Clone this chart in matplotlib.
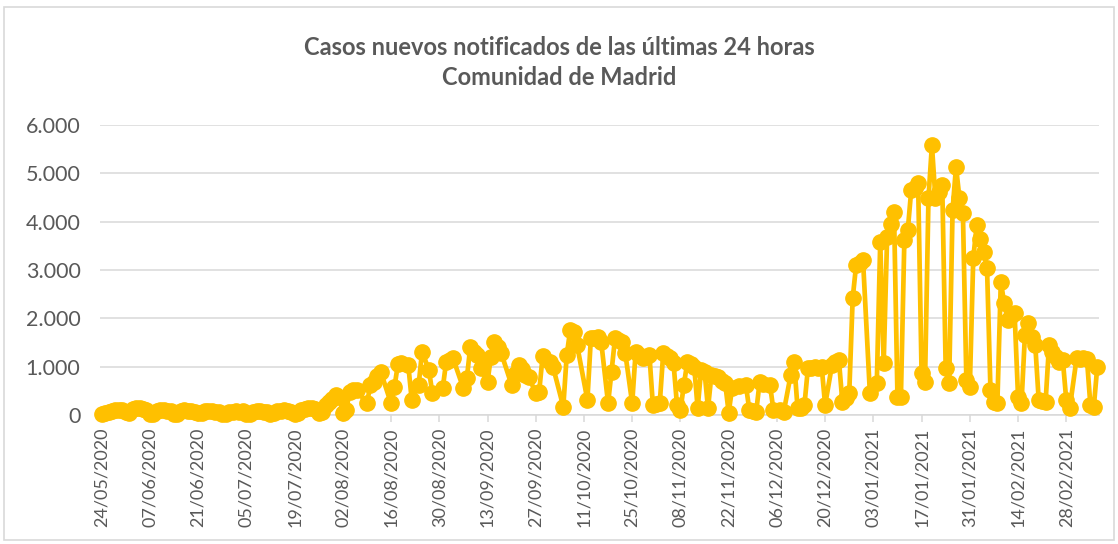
import datetime as dt

import matplotlib
matplotlib.use("Agg")
import matplotlib.dates as mdates
import matplotlib.pyplot as plt
from matplotlib.patches import Rectangle
from matplotlib.ticker import FuncFormatter, MultipleLocator


TITLE = "Casos nuevos notificados de las últimas 24 horas\nComunidad de Madrid"
START = dt.date(2020, 5, 24)

# days since 24/05/2020 and cases notified that day
dias = [
    0, 1, 2, 3, 4, 5, 6, 7, 8, 9, 10, 11, 12, 13,
    14, 15, 16, 17, 18, 19, 20, 21, 22, 23, 24, 25, 26, 27,
    28, 29, 30, 31, 32, 33, 34, 35, 36, 37, 38, 39, 40, 41,
    42, 43, 44, 45, 46, 47, 48, 49, 50, 51, 52, 53, 54, 55,
    56, 57, 58, 59, 60, 61, 62, 63, 64, 65, 66, 67, 68, 69,
    70, 71, 72, 73, 74, 77, 78, 79, 80, 81,
    84, 85, 86, 87, 89, 90, 92, 93, 95, 96,
    99, 100, 101, 102, 105, 106, 107, 108, 109, 110,
    112, 113, 114, 115, 116, 119, 120, 121, 122, 123, 124,
    126, 127, 128, 130, 131, 134, 135, 136, 137, 138,
    141, 142, 143, 144, 145, 147, 148, 149, 150, 151, 152,
    154, 155, 156, 157, 158, 159, 160, 161, 162, 163, 164, 165,
    166, 167, 168, 169, 170, 171, 172, 173, 174, 175, 176, 177, 178, 179, 180, 181,
    182, 183, 185, 187, 188, 189, 190, 191, 192, 194,
    195, 197, 198, 200, 201, 202, 203, 204, 205, 206, 207, 208, 209,
    210, 212, 213, 214, 215, 216, 217, 218, 219, 220, 221,
    223, 225, 226, 227, 228, 229, 230, 231, 232, 233, 234, 235, 236, 237,
    238, 239, 240, 241, 242, 243, 244, 245, 246, 247, 248, 249, 250,
    251, 252, 253, 254, 255, 256, 257, 258, 259, 260, 261, 262, 263, 264, 265,
    266, 267, 268, 269, 270, 271, 272, 273, 274, 275, 276, 277, 278, 279,
    280, 281, 283, 284, 285, 286, 287, 288, 289,
]
casos = [
    30, 50, 70, 80, 95, 110, 100, 70, 40, 120, 135, 140, 130, 110,
    15, 25, 90, 100, 95, 85, 80, 20, 30, 85, 95, 80, 75, 60,
    45, 50, 75, 80, 85, 70, 60, 15, 25, 65, 70, 75, 70, 80,
    15, 30, 70, 80, 75, 60, 70, 20, 40, 80, 90, 95, 85, 60,
    30, 50, 110, 130, 145, 150, 120, 50, 60, 200, 270, 330, 414, 380,
    50, 110, 480, 517, 517, 241, 620, 690, 800, 896,
    241, 586, 1055, 1069, 1034, 310, 621, 1310, 931, 448,
    552, 1103, 1140, 1172, 552, 758, 1413, 1300, 1241, 965,
    690, 1207, 1517, 1400, 1276, 621, 850, 1034, 950, 827, 790,
    448, 483, 1220, 1100, 1000, 172, 1241, 1758, 1724, 1448,
    310, 1586, 1600, 1620, 1517, 241, 897, 1586, 1550, 1517, 1276,
    241, 1310, 1250, 1172, 1200, 1241, 207, 220, 241, 1276, 1220, 1172,
    1069, 207, 103, 621, 1103, 1050, 1000, 138, 931, 900, 138, 827, 800, 790, 700, 655,
    50, 552, 600, 621, 103, 80, 69, 690, 650, 621,
    103, 103, 69, 827, 1103, 138, 150, 207, 965, 980, 1000, 980, 1000,
    207, 1034, 1100, 1138, 276, 350, 448, 2414, 3103, 3150, 3207,
    448, 655, 3586, 1069, 3690, 3950, 4207, 379, 379, 3621, 3828, 4655, 4700, 4793,
    862, 690, 4483, 5586, 4500, 4621, 4759, 965, 655, 4241, 5138, 4483, 4172,
    724, 570, 3241, 3931, 3650, 3379, 3034, 517, 276, 241, 2758, 2310, 1966, 2050, 2103,
    379, 241, 1655, 1897, 1620, 1448, 310, 290, 276, 1448, 1300, 1207, 1103, 1138,
    310, 138, 1172, 1150, 1172, 1160, 207, 172, 1000,
]

GOLD = "#FFC000"
GREY_TEXT = "#595959"
GRID = "#D9D9D9"


def miles(value, _pos):
    return f"{int(value):,}".replace(",", ".")


def main() -> None:
    plt.rcParams["font.family"] = ["Lato", "DejaVu Sans"]
    fechas = [START + dt.timedelta(days=d) for d in dias]

    fig = plt.figure(figsize=(11.18, 5.44), dpi=100)
    ax = fig.add_axes([0.0894, 0.2371, 0.8936, 0.5331])

    ax.plot(fechas, casos, color=GOLD, linewidth=3.4, marker="o",
            markersize=11, markerfacecolor=GOLD, markeredgecolor=GOLD,
            solid_joinstyle="round", clip_on=False, zorder=3)

    ax.set_ylim(0, 6000)
    ax.yaxis.set_major_locator(MultipleLocator(1000))
    ax.yaxis.set_major_formatter(FuncFormatter(miles))
    ax.set_xlim(mdates.date2num(START) - 0.5,
                mdates.date2num(START + dt.timedelta(days=289)) + 0.5)
    ticks = [START + dt.timedelta(days=14 * k) for k in range(21)]
    ax.set_xticks(ticks)
    ax.xaxis.set_major_formatter(mdates.DateFormatter("%d/%m/%Y"))

    ax.grid(axis="y", color=GRID, linewidth=1.1, zorder=0)
    for side in ("top", "right", "left"):
        ax.spines[side].set_visible(False)
    ax.spines["bottom"].set_color(GRID)
    ax.spines["bottom"].set_linewidth(1.1)
    ax.tick_params(axis="y", length=0, pad=14, labelsize=15.5, labelcolor=GREY_TEXT)
    ax.tick_params(axis="x", length=5, color=GRID, width=1.1, pad=4,
                   labelsize=13, labelcolor=GREY_TEXT, labelrotation=90)

    fig.text(0.5, 0.885, TITLE, ha="center", va="center", fontsize=17,
             fontweight="bold", color=GREY_TEXT, linespacing=1.4)

    fig.patches.append(Rectangle((0.004, 0.008), 0.992, 0.98,
                                 transform=fig.transFigure, fill=False,
                                 edgecolor=GRID, linewidth=1.2))

    fig.savefig("out.png", dpi=100)
    plt.close(fig)


if __name__ == "__main__":
    main()
